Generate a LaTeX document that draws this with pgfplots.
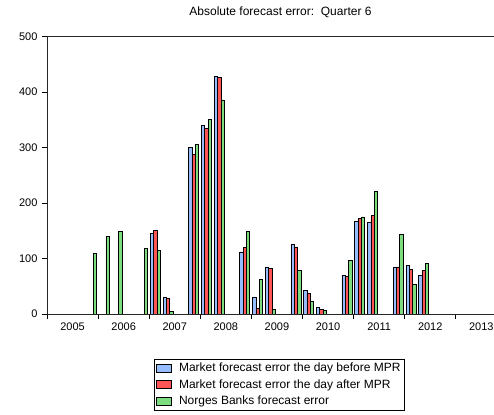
\documentclass[border=0pt]{standalone}
\usepackage{fontspec}
\setmainfont{Liberation Sans}
\usepackage{pgfplots}
\usepackage{pgfplotstable}
\pgfplotsset{compat=1.18}
\definecolor{cB}{RGB}{150,190,255}
\definecolor{cR}{RGB}{255,85,85}
\definecolor{cG}{RGB}{125,220,125}

\pgfplotstableread{
x B R
2007.12 146 151
2007.37 30 27.6
2007.87 300 288
2008.12 340 334
2008.37 429 427
2008.87 112 120
2009.12 31 11
2009.37 85 82
2009.87 126 121
2010.12 43 37
2010.37 12 8
2010.87 70 68
2011.12 167 172
2011.37 165 178
2011.87 84 85
2012.12 87 81
2012.37 70 78
}\mkt

\pgfplotstableread{
x G
2005.87 109
2006.12 140
2006.37 149
2006.87 118
2007.12 115
2007.37 5
2007.87 306
2008.12 351
2008.37 386
2008.87 149
2009.12 63
2009.37 9
2009.87 79
2010.12 23
2010.37 6
2010.87 97
2011.12 175
2011.37 221
2011.87 144
2012.12 53
2012.37 91
}\nb

\begin{document}
\begin{tikzpicture}
\begin{axis}[
  at={(47pt,100pt)}, anchor=south west,
  scale only axis, width=459.9pt, height=277.3pt,
  xmin=2005, xmax=2014, ymin=0, ymax=500,
  ytick={0,100,...,500},
  xtick={2005,2006,...,2014},
  xticklabels={2005,2006,2007,2008,2009,2010,2011,2012,2013},
  x tick label as interval,
  minor x tick num=3,
  /pgf/number format/assume math mode=true,
  tick align=outside, tick pos=left,
  major tick length=5pt, minor tick length=2.5pt,
  every tick/.style={black, line width=0.7pt},
  axis line style={line width=0.9pt, black!85},
  tick label style={font=\fontsize{11}{13}\selectfont},
  yticklabel style={xshift=-1pt},
  legend style={at={(0.5055,-0.162)}, anchor=north, draw=black, line width=0.6pt,
    font=\fontsize{12}{13}\selectfont, row sep=2.2pt, inner xsep=2pt, inner ysep=2pt,
    cells={anchor=west}},
  legend image code/.code={\draw[#1,draw=black,line width=0.6pt] (2pt,-4pt) rectangle (17pt,4pt);\path (22pt,0);},
]
\addplot[ybar, bar width=0.0655, bar shift=-0.0655, fill=cB, draw=black, line width=0.6pt] table[x=x,y=B]{\mkt};
\addlegendentry{Market forecast error the day before MPR}
\addplot[ybar, bar width=0.0655, bar shift=0, fill=cR, draw=black, line width=0.6pt] table[x=x,y=R]{\mkt};
\addlegendentry{Market forecast error the day after MPR}
\addplot[ybar, bar width=0.0655, bar shift=0.0655, fill=cG, draw=black, line width=0.6pt] table[x=x,y=G]{\nb};
\addlegendentry{Norges Banks forecast error}
\end{axis}
\node[font=\fontsize{12}{13}\selectfont] at (280.5pt,402pt) {Absolute forecast error:\ \ Quarter 6};
\pgfresetboundingbox
\path[use as bounding box] (0,0) rectangle (494pt,414pt);
\end{tikzpicture}
\end{document}
